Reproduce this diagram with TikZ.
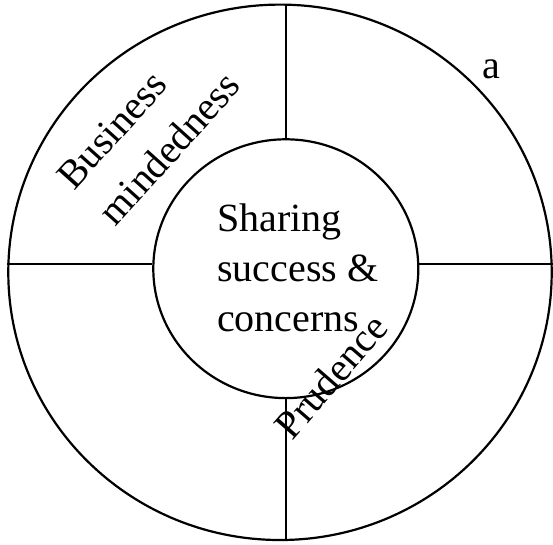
\documentclass[tikz,border=0pt]{standalone}
\usepackage{fontspec}
\setmainfont{Liberation Serif}
\usetikzlibrary{shapes.geometric}
\begin{document}
\begin{tikzpicture}[x=1pt,y=-1pt,
  ring/.style={draw,ellipse,line width=2.2pt,inner sep=0pt},
  divider/.style={line width=2.2pt},
  label/.style={font=\fontsize{40}{50}\selectfont,inner sep=0pt}]
  \useasboundingbox (0,0) rectangle (553,544);
  % outer and inner rings
  \node[ring,minimum width=543.4pt,minimum height=535.4pt] (outer) at (280,272.3) {};
  \node[ring,minimum width=265pt,minimum height=258.8pt] (inner) at (285.8,268.7) {};
  \coordinate (mid) at (286,264);
  % quadrant dividers
  \draw[divider] (inner.north) -- (inner.north |- outer.north);
  \draw[divider] (inner.south) -- (inner.south |- outer.south);
  \draw[divider] (outer.west |- mid) -- (inner.west |- mid);
  \draw[divider] (inner.east |- mid) -- (outer.east |- mid);
  % labels
  \node[label,align=left,anchor=north west] (centre) at (217,203.5) {Sharing\\success \&\\concerns};
  \node[label,rotate=48] (business) at (112,130) {Business};
  \node[label,rotate=48] (minded) at (169,148) {mindedness};
  \node[label,rotate=49] (prudence) at (331,376) {Prudence};
  \node[label,anchor=base] (a) at (491.5,78) {a};
\end{tikzpicture}
\end{document}
